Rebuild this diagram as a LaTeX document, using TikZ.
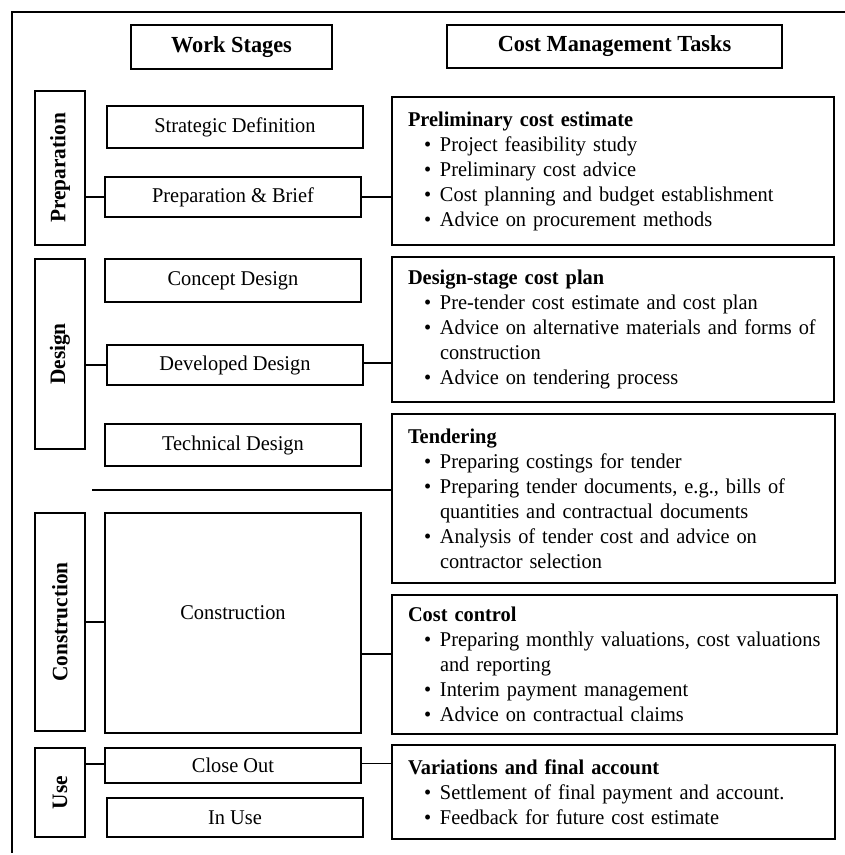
\documentclass[tikz,border=0pt]{standalone}
\usepackage{fontspec}
\setmainfont{Liberation Serif}[FakeStretch=0.97]
\newcommand{\bul}[1]{\hspace*{16pt}\makebox[16pt][l]{\textbullet}\mbox{#1}}
\newcommand{\cnt}[1]{\hspace*{32pt}\mbox{#1}}
\newcommand{\hd}[1]{\mbox{\bfseries #1}}
\hbadness=10000 \hfuzz=200pt
\tikzset{
  box/.style={draw, line width=1.3pt, inner sep=0pt, align=center,
    font={\fontsize{21pt}{25pt}\selectfont}},
  headbox/.style={box, font={\bfseries\fontsize{23pt}{26pt}\selectfont}},
  phase/.style={box, rotate=90, minimum height=50pt,
    font={\bfseries\fontsize{22pt}{26pt}\selectfont}},
  stagebox/.style={box, minimum width=256pt},
  task/.style={draw, line width=1.3pt, inner xsep=16pt, inner ysep=0pt,
    align=left, font={\fontsize{21pt}{25pt}\selectfont}},
  conn/.style={line width=1.3pt},
}
\begin{document}
\begin{tikzpicture}[x=1pt, y=-1pt]
\useasboundingbox (0,0) rectangle (845,855);
% frame
\coordinate (ftl) at (12,12);
\coordinate (ftr) at (845,12);
\coordinate (fbl) at (12,853);
\draw[line width=1.6pt] (ftr) -- (ftl) -- (fbl);

% headings
\node[headbox, minimum width=201pt, minimum height=44pt] (ws) at (231.5,47) {Work Stages};
\node[headbox, minimum width=335pt, minimum height=43pt] (cmt) at (614.5,46.5) {Cost Management Tasks};

% phase labels
\node[phase, minimum width=154pt] (prepL) at (60,168) {Preparation};
\node[phase, minimum width=190pt] (designL) at (60,354) {Design};
\node[phase, minimum width=218pt] (constrL) at (60,622) {Construction};
\node[phase, minimum width=89pt] (useL) at (60,792.5) {Use};

% stages
\node[stagebox, minimum height=42pt] (sd) at (235,127) {Strategic Definition};
\node[stagebox, minimum height=40pt] (pb) at (233,197) {Preparation \& Brief};
\node[stagebox, minimum height=43pt] (cd) at (233,280.5) {Concept Design};
\node[stagebox, minimum height=40pt] (dd) at (235,365) {Developed Design};
\node[stagebox, minimum height=42pt] (td) at (233,445) {Technical Design};
\node[stagebox, minimum height=220pt] (constr) at (233,623) {};
\node[font={\fontsize{21pt}{25pt}\selectfont}, inner sep=0pt] (constrT) at (233,613) {Construction};
\node[stagebox, minimum height=35pt] (co) at (233,765.5) {Close Out};
\node[stagebox, minimum height=39pt] (iu) at (235,817.5) {In Use};

% tasks
\node[task, minimum width=442pt, minimum height=148pt, text width=410pt] (prelim) at (613,171) {%
\hd{Preliminary cost estimate}\\
\bul{Project feasibility study}\\
\bul{Preliminary cost advice}\\
\bul{Cost planning and budget establishment}\\
\bul{Advice on procurement methods}};

\node[task, minimum width=442pt, minimum height=145pt, text width=410pt] (dscp) at (613,329.5) {%
\hd{Design-stage cost plan}\\
\bul{Pre-tender cost estimate and cost plan}\\
\bul{Advice on alternative materials and forms of}\\
\cnt{construction}\\
\bul{Advice on tendering process}};

\node[task, minimum width=443pt, minimum height=169pt, text width=411pt] (tender) at (613.5,498.5) {%
\hd{Tendering}\\
\bul{Preparing costings for tender}\\
\bul{Preparing tender documents, e.g., bills of}\\
\cnt{quantities and contractual documents}\\
\bul{Analysis of tender cost and advice on}\\
\cnt{contractor selection}};

\node[task, minimum width=445pt, minimum height=139pt, text width=413pt] (cc) at (614.5,664.5) {%
\hd{Cost control}\\
\bul{Preparing monthly valuations, cost valuations}\\
\cnt{and reporting}\\
\bul{Interim payment management}\\
\bul{Advice on contractual claims}};

\node[task, minimum width=443pt, minimum height=94pt, text width=411pt] (var) at (613.5,792) {%
\hd{Variations and final account}\\
\bul{Settlement of final payment and account.}\\
\bul{Feedback for future cost estimate}};

% connectors
\draw[conn] (pb.west) -- (pb.west -| prepL.south);
\draw[conn] (pb.east) -- (pb.east -| prelim.west);
\draw[conn] (dd.west) -- (dd.west -| designL.south);
\draw[conn] ([yshift=2pt]dd.east) -- ([yshift=2pt]dd.east -| dscp.west);
\coordinate (sep) at (92,490);
\draw[conn] (sep) -- (sep -| tender.west);
\draw[conn] (constrL.south) -- (constrL.south -| constr.west);
\coordinate (ccin) at (361,654);
\draw[conn] (ccin) -- (ccin -| cc.west);
\draw[conn] ([yshift=1.5pt]co.west) -- ([yshift=1.5pt]co.west -| useL.south);
\draw[conn] ([yshift=2pt]co.east) -- ([yshift=2pt]co.east -| var.west);
\end{tikzpicture}
\end{document}
